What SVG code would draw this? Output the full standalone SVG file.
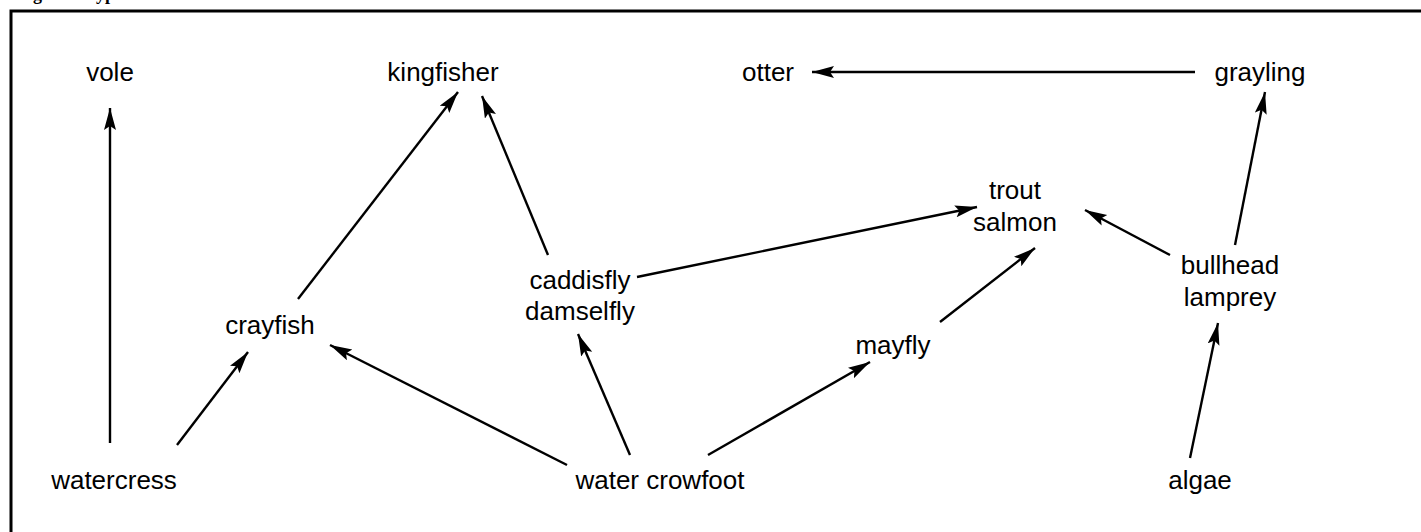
<svg xmlns="http://www.w3.org/2000/svg" width="1421" height="532" viewBox="0 0 1421 532">
<style>
.t{font-family:"Liberation Sans",Arial,sans-serif;font-size:26px;fill:#000;text-anchor:middle}
.e{stroke:#000;stroke-width:2.4;fill:none;marker-end:url(#ah)}
.title{font-family:"Liberation Serif","Times New Roman",serif;font-weight:bold;font-size:18px;fill:#000}
</style>
<defs>
<marker id="ah" markerUnits="userSpaceOnUse" markerWidth="24" markerHeight="14" refX="22" refY="6" orient="auto">
<path d="M0,0 L22,6 L0,12 L4,6 Z" fill="#000"/>
</marker>
</defs>
<rect width="1421" height="532" fill="#fff"/>
<text class="title" x="17" y="0">Figure 1 Typical food web</text>
<rect x="11" y="11" width="1420" height="530" fill="none" stroke="#000" stroke-width="3"/>
<g id="connectors">
<line class="e" x1="110" y1="443" x2="110" y2="108"/>
<line class="e" x1="177" y1="445" x2="248" y2="352"/>
<line class="e" x1="298" y1="299" x2="458" y2="92"/>
<line class="e" x1="548" y1="255" x2="482" y2="96"/>
<line class="e" x1="567" y1="465" x2="330" y2="345"/>
<line class="e" x1="630" y1="455" x2="578" y2="334"/>
<line class="e" x1="708" y1="455" x2="870" y2="362"/>
<line class="e" x1="637" y1="277" x2="977" y2="207"/>
<line class="e" x1="940" y1="322" x2="1035" y2="248"/>
<line class="e" x1="1170" y1="255" x2="1085" y2="210"/>
<line class="e" x1="1235" y1="245" x2="1265" y2="92"/>
<line class="e" x1="1190" y1="458" x2="1218" y2="323"/>
<line class="e" x1="1195" y1="72" x2="812" y2="72"/>
</g>
<g id="vole"><text class="t" x="110" y="81">vole</text></g>
<g id="kingfisher"><text class="t" x="443" y="81">kingfisher</text></g>
<g id="otter"><text class="t" x="768" y="81">otter</text></g>
<g id="grayling"><text class="t" x="1260" y="81">grayling</text></g>
<g id="trout-salmon"><text class="t" x="1015" y="199">trout</text><text class="t" x="1015" y="231">salmon</text></g>
<g id="caddisfly-damselfly"><text class="t" x="580" y="289">caddisfly</text><text class="t" x="580" y="320">damselfly</text></g>
<g id="bullhead-lamprey"><text class="t" x="1230" y="274">bullhead</text><text class="t" x="1230" y="306">lamprey</text></g>
<g id="crayfish"><text class="t" x="270" y="334">crayfish</text></g>
<g id="mayfly"><text class="t" x="893" y="354">mayfly</text></g>
<g id="watercress"><text class="t" x="114" y="489">watercress</text></g>
<g id="water-crowfoot"><text class="t" x="660" y="489">water crowfoot</text></g>
<g id="algae"><text class="t" x="1200" y="489">algae</text></g>
</svg>
